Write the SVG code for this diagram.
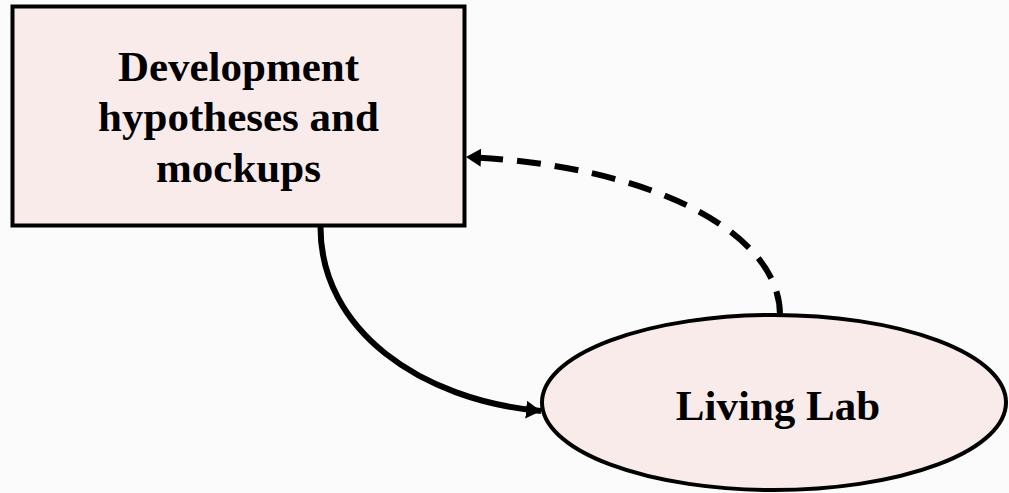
<svg xmlns="http://www.w3.org/2000/svg" width="1009" height="493" viewBox="0 0 1009 493">
  <style>
    .node { fill: #f9ebea; stroke: #000; stroke-width: 4; }
    .label { font-family: "Liberation Serif", "Times New Roman", serif; font-weight: bold; font-size: 43px; fill: #000; text-anchor: middle; }
    .edge { fill: none; stroke: #000; stroke-width: 6; }
    .dashed { stroke-dasharray: 24 14; }
  </style>
  <defs>
    <marker id="arrow" viewBox="0 0 15 18" refX="15" refY="9" markerWidth="15" markerHeight="18" orient="auto" markerUnits="userSpaceOnUse">
      <path d="M0,0 L15,9 L0,18 Z" fill="#000"/>
    </marker>
  </defs>
  <rect width="1009" height="493" fill="#fbfbfb"/>

  <g id="connectors">
    <path class="edge" d="M320.5,227 C320.5,330 420,400 541,411" marker-end="url(#arrow)"/>
    <path class="edge dashed" d="M780,315 C780,232 650,165 466,157" marker-end="url(#arrow)"/>
  </g>

  <g id="node-development">
    <rect class="node" x="12.5" y="6.5" width="452" height="219"/>
    <text class="label" x="238.5" y="81">Development</text>
    <text class="label" x="238.5" y="131">hypotheses and</text>
    <text class="label" x="238.5" y="182">mockups</text>
  </g>

  <g id="node-living-lab">
    <ellipse class="node" cx="774" cy="402.5" rx="232" ry="87.5"/>
    <text class="label" x="778" y="420">Living Lab</text>
  </g>
</svg>
